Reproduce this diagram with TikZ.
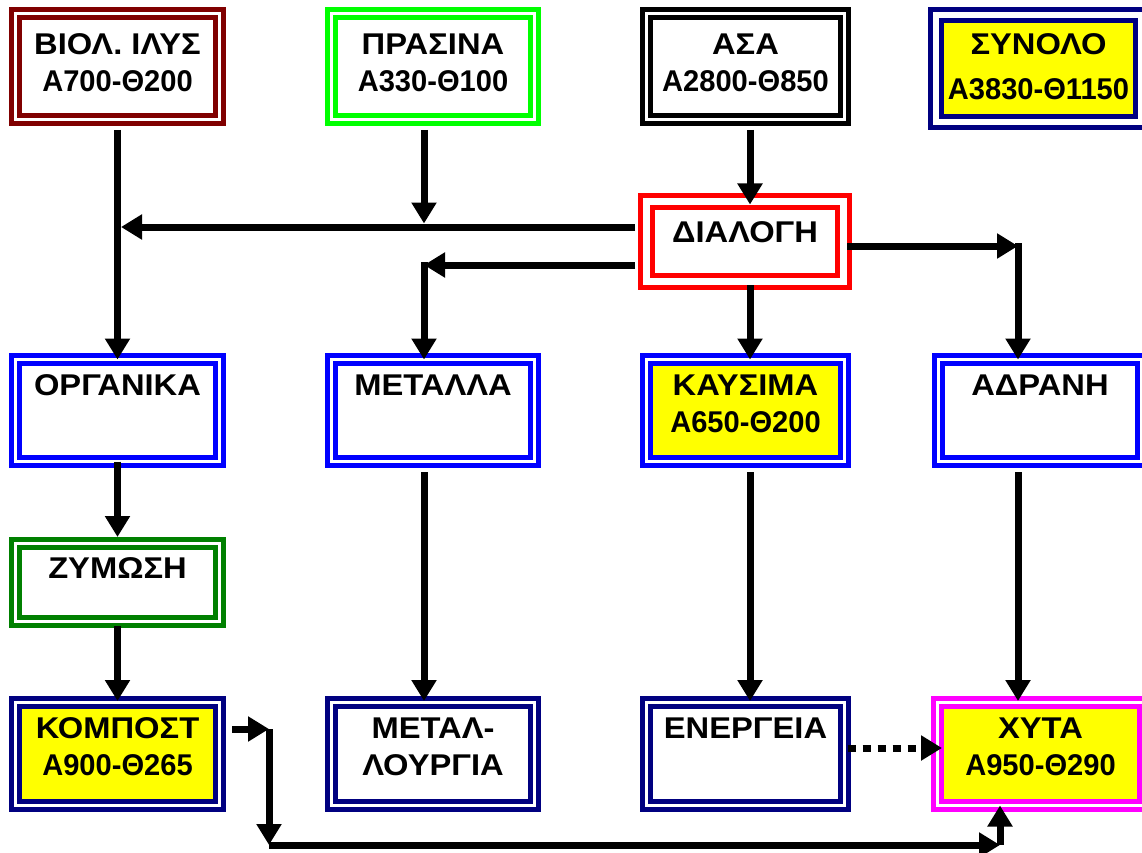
\documentclass[tikz,border=0pt]{standalone}
\usepackage{fontspec}
\setmainfont{Liberation Sans}
\usetikzlibrary{arrows.meta}
\definecolor{cdred}{HTML}{800000}
\definecolor{clime}{HTML}{00FF00}
\definecolor{cnavy}{HTML}{000080}
\definecolor{cblue}{HTML}{0000FF}
\definecolor{cgreen}{HTML}{008000}
\definecolor{cmag}{HTML}{FF00FF}
\definecolor{cred}{HTML}{FF0000}
\definecolor{cyel}{HTML}{FFFF00}
\newcommand\boxfont{\fontsize{30}{37}\selectfont\bfseries}
\newcommand\gw[1]{{\addfontfeatures{FakeStretch=1.09}#1}}
\newcommand\nw[1]{{\addfontfeatures{FakeStretch=0.97}#1}}
% name, x1, y1, x2, y2, style, gap, baseline offset, text
\newcommand\dbox[9]{%
  \pgfmathsetmacro\dbIns{5+#7/2}%
  \pgfmathsetlengthmacro\dbMW{(#4-#2-2*\dbIns)*1pt}%
  \pgfmathsetlengthmacro\dbTH{(#8-\dbIns)*1pt}%
  \pgfmathsetlengthmacro\dbTD{(#5-#3-#8-\dbIns)*1pt}%
  \node[dbox,#6,double distance=#7pt,minimum width=\dbMW,text height=\dbTH,text depth=\dbTD]
    (#1) at ({(#2+#4)/2},{(#3+#5)/2}) {\begin{tabular}[t]{@{}c@{}}#9\end{tabular}};}
\begin{document}
\begin{tikzpicture}[x=1pt,y=-1pt,
  dbox/.style={rectangle,outer sep=0pt,inner sep=0pt,line width=5pt,double=white,text=black,font=\boxfont},
  arr/.style={draw=black,line width=7pt,-{Triangle[length=21pt,width=24pt]}}]
\useasboundingbox (0,0) rectangle (1142,853);
\clip (0,0) rectangle (1142,853);
\fill[white] (0,0) rectangle (1142,853);
% row 1
\dbox{biol}{9}{7}{226}{126}{draw=cdred,fill=white}{3}{48}{\gw{ΒΙΟΛ. ΙΛΥΣ}\\\nw{Α700-Θ200}}
\dbox{pras}{325}{7}{541}{126}{draw=clime,fill=white}{3}{48}{\gw{ΠΡΑΣΙΝΑ}\\\nw{Α330-Θ100}}
\dbox{asa}{640}{7}{851}{126}{draw=black,fill=white}{3}{48}{\gw{ΑΣΑ}\\\nw{Α2800-Θ850}}
\dbox{syn}{928}{7}{1149}{130}{draw=cnavy,fill=cyel}{6}{48}{\gw{ΣΥΝΟΛΟ}\\[8pt]\nw{Α3830-Θ1150}}
% row 2
\dbox{dial}{638}{193}{852}{290}{draw=cred,fill=white}{7}{49}{\gw{ΔΙΑΛΟΓΗ}}
% row 3
\dbox{org}{9}{353}{226}{468}{draw=cblue,fill=white}{3}{42}{\gw{ΟΡΓΑΝΙΚΑ}}
\dbox{met}{325}{353}{541}{468}{draw=cblue,fill=white}{3}{42}{\gw{ΜΕΤΑΛΛΑ}}
\dbox{kaus}{640}{353}{851}{468}{draw=cblue,fill=cyel}{3}{42}{\gw{ΚΑΥΣΙΜΑ}\\\nw{Α650-Θ200}}
\dbox{adr}{932}{353}{1148}{468}{draw=cblue,fill=white}{3}{42}{\gw{ΑΔΡΑΝΗ}}
% row 4
\dbox{zym}{9}{537}{226}{628}{draw=cgreen,fill=white}{3}{41}{\gw{ΖΥΜΩΣΗ}}
% row 5
\dbox{komp}{9}{696}{226}{812}{draw=cnavy,fill=cyel}{3}{42}{\gw{ΚΟΜΠΟΣΤ}\\\nw{Α900-Θ265}}
\dbox{metl}{325}{696}{541}{812}{draw=cnavy,fill=white}{3}{42}{\gw{ΜΕΤΑΛ-}\\\gw{ΛΟΥΡΓΙΑ}}
\dbox{ener}{640}{696}{851}{812}{draw=cnavy,fill=white}{3}{42}{\gw{ΕΝΕΡΓΕΙΑ}}
\dbox{xyta}{931}{696}{1150}{812}{draw=cmag,fill=cyel}{3}{42}{\gw{ΧΥΤΑ}\\\nw{Α950-Θ290}}
% junction coordinates
\coordinate (tipL) at (121,227);
\coordinate (pj) at (424,223.5);
\coordinate (mj) at (424,265);
\coordinate (rj) at (1018,246);
\coordinate (x3) at (750,0);
\coordinate (dy) at (0,748);
\coordinate (kA) at (269,729);
\coordinate (kB) at (269,845);
\coordinate (kC) at (1000,845);
% connectors
\draw[arr,shorten <=10.5pt] (biol.south) -- (org.north);
\draw[arr,shorten <=10.5pt] (pras.south -| pj) -- (pj);
\draw[arr,shorten <=10.5pt,shorten >=-3pt] (asa.south -| x3) -- (dial.north -| x3);
\draw[arr,shorten <=11.5pt] (dial.west |- tipL) -- (tipL);
\draw[arr,shorten <=11.5pt] (dial.west |- mj) -- (mj);
\draw[arr] ([yshift=3pt]mj) -- (met.north -| mj);
\draw[arr,shorten <=3.5pt] (dial.east |- rj) -- (rj);
\draw[arr] ([yshift=3pt]rj) -- (adr.north -| rj);
\draw[arr,shorten <=3.5pt] (dial.south -| x3) -- (kaus.north -| x3);
\draw[arr,shorten >=6.5pt] (org.south) -- (zym.north);
\draw[arr,shorten <=4.5pt,shorten >=1.5pt] (zym.south) -- (komp.north);
\draw[arr,shorten <=10.5pt,shorten >=1.5pt] (met.south -| mj) -- (metl.north -| mj);
\draw[arr,shorten <=10.5pt,shorten >=1.5pt] (kaus.south -| x3) -- (ener.north -| x3);
\draw[arr,shorten <=10.5pt,shorten >=1.5pt] (adr.south -| rj) -- (xyta.north -| rj);
\draw[arr,dash pattern=on 8pt off 7pt,shorten <=3pt,shorten >=-4.5pt] (ener.east |- dy) -- (xyta.west |- dy);
\draw[arr,shorten <=12.5pt] (komp.east |- kA) -- (kA);
\draw[arr] (kA) -- (kB);
\draw[arr] (kB) -- (kC);
\draw[arr] (kC) -- (xyta.south -| kC);
\end{tikzpicture}
\end{document}
